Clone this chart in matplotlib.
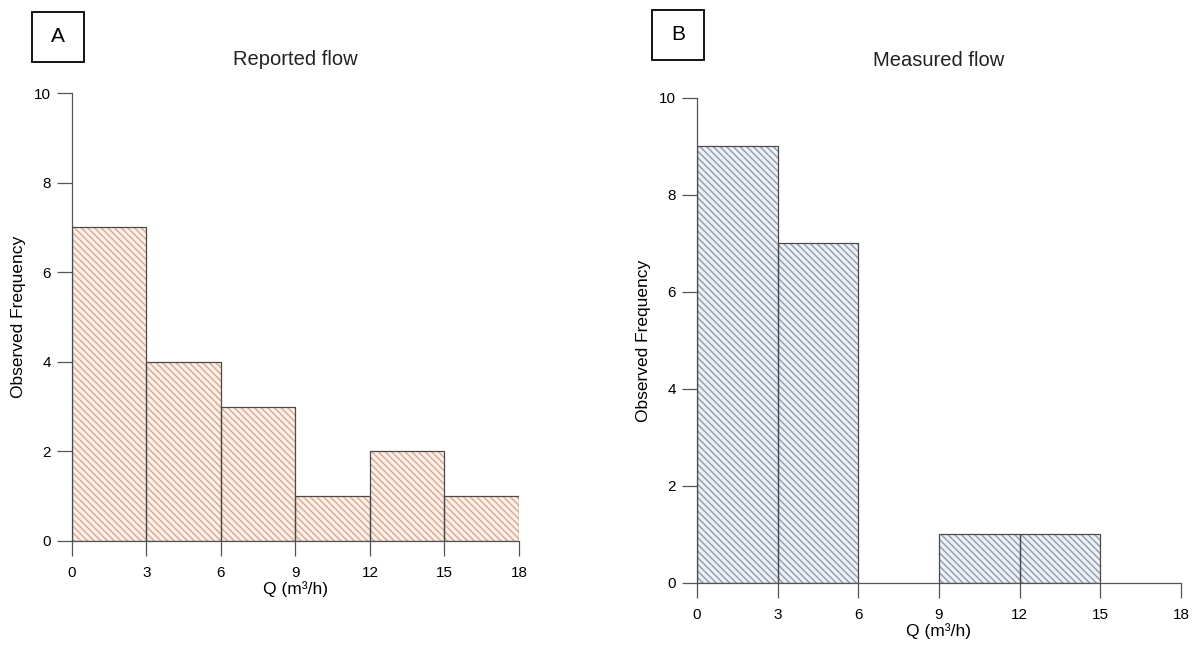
import matplotlib
matplotlib.use("Agg")
import matplotlib.pyplot as plt
from matplotlib.patches import Rectangle

plt.rcParams['font.family'] = ['Liberation Sans', 'DejaVu Sans']
plt.rcParams['hatch.linewidth'] = 1.1

bin_edges = [0, 3, 6, 9, 12, 15, 18]
reported_counts = [7, 4, 3, 1, 2, 1]
measured_counts = [9, 7, 0, 1, 1, 0]
y_ticks = [0, 2, 4, 6, 8, 10]
panel_letters = ['A', 'B']
titles = ['Reported flow', 'Measured flow']


def draw_hist(ax, counts, fill, hatch_color, title, title_pad):
    lefts = bin_edges[:-1]
    widths = [b - a for a, b in zip(bin_edges[:-1], bin_edges[1:])]
    keep = [i for i, c in enumerate(counts) if c > 0]
    xs = [lefts[i] for i in keep]
    hs = [counts[i] for i in keep]
    ws = [widths[i] for i in keep]
    ax.bar(xs, hs, width=ws, align='edge', color=fill, edgecolor=hatch_color,
           hatch='\\\\\\\\\\', linewidth=0, zorder=2)
    ax.bar(xs, hs, width=ws, align='edge', fill=False, edgecolor='#4a4a4a',
           linewidth=0.9, zorder=3)
    ax.set_xlim(0, 18)
    ax.set_ylim(0, 10)
    ax.set_xticks(bin_edges)
    ax.set_yticks(y_ticks)
    for s in ['top', 'right']:
        ax.spines[s].set_visible(False)
    for s in ['left', 'bottom']:
        ax.spines[s].set_color('#555555')
        ax.spines[s].set_linewidth(0.9)
    ax.tick_params(direction='out', length=11, width=0.9, color='#555555',
                   labelsize=11)
    ax.tick_params(axis='x', pad=7)
    ax.tick_params(axis='y', pad=4)
    ax.set_xlabel('Q (m\u00b3/h)', fontsize=12.5, labelpad=1)
    ax.set_ylabel('Observed Frequency', fontsize=12.5, labelpad=6)
    ax.set_title(title, fontsize=14.5, pad=20 + title_pad, color='#222222')


fig = plt.figure(figsize=(11.99, 6.5), dpi=100)
ax1 = fig.add_axes([0.0600, 0.1677, 0.3728, 0.6892])
ax2 = fig.add_axes([0.5813, 0.1031, 0.4037, 0.7462])

draw_hist(ax1, reported_counts, '#fdf1e9', '#d9ad98', titles[0], 0)
draw_hist(ax2, measured_counts, '#eef2f8', '#95a0b0', titles[1], 3)

# panel letters in boxes
for (x0, y0), letter in zip([(32, 588), (652, 590)], panel_letters):
    fig.patches.append(Rectangle((x0 / 1199, y0 / 650), 52 / 1199, 50 / 650,
                                 transform=fig.transFigure, fill=False,
                                 edgecolor='black', linewidth=1.3))
    fig.text((x0 + 26) / 1199, (y0 + 25) / 650, letter, ha='center',
             va='center', fontsize=15)

fig.savefig('out.png', dpi=100)
